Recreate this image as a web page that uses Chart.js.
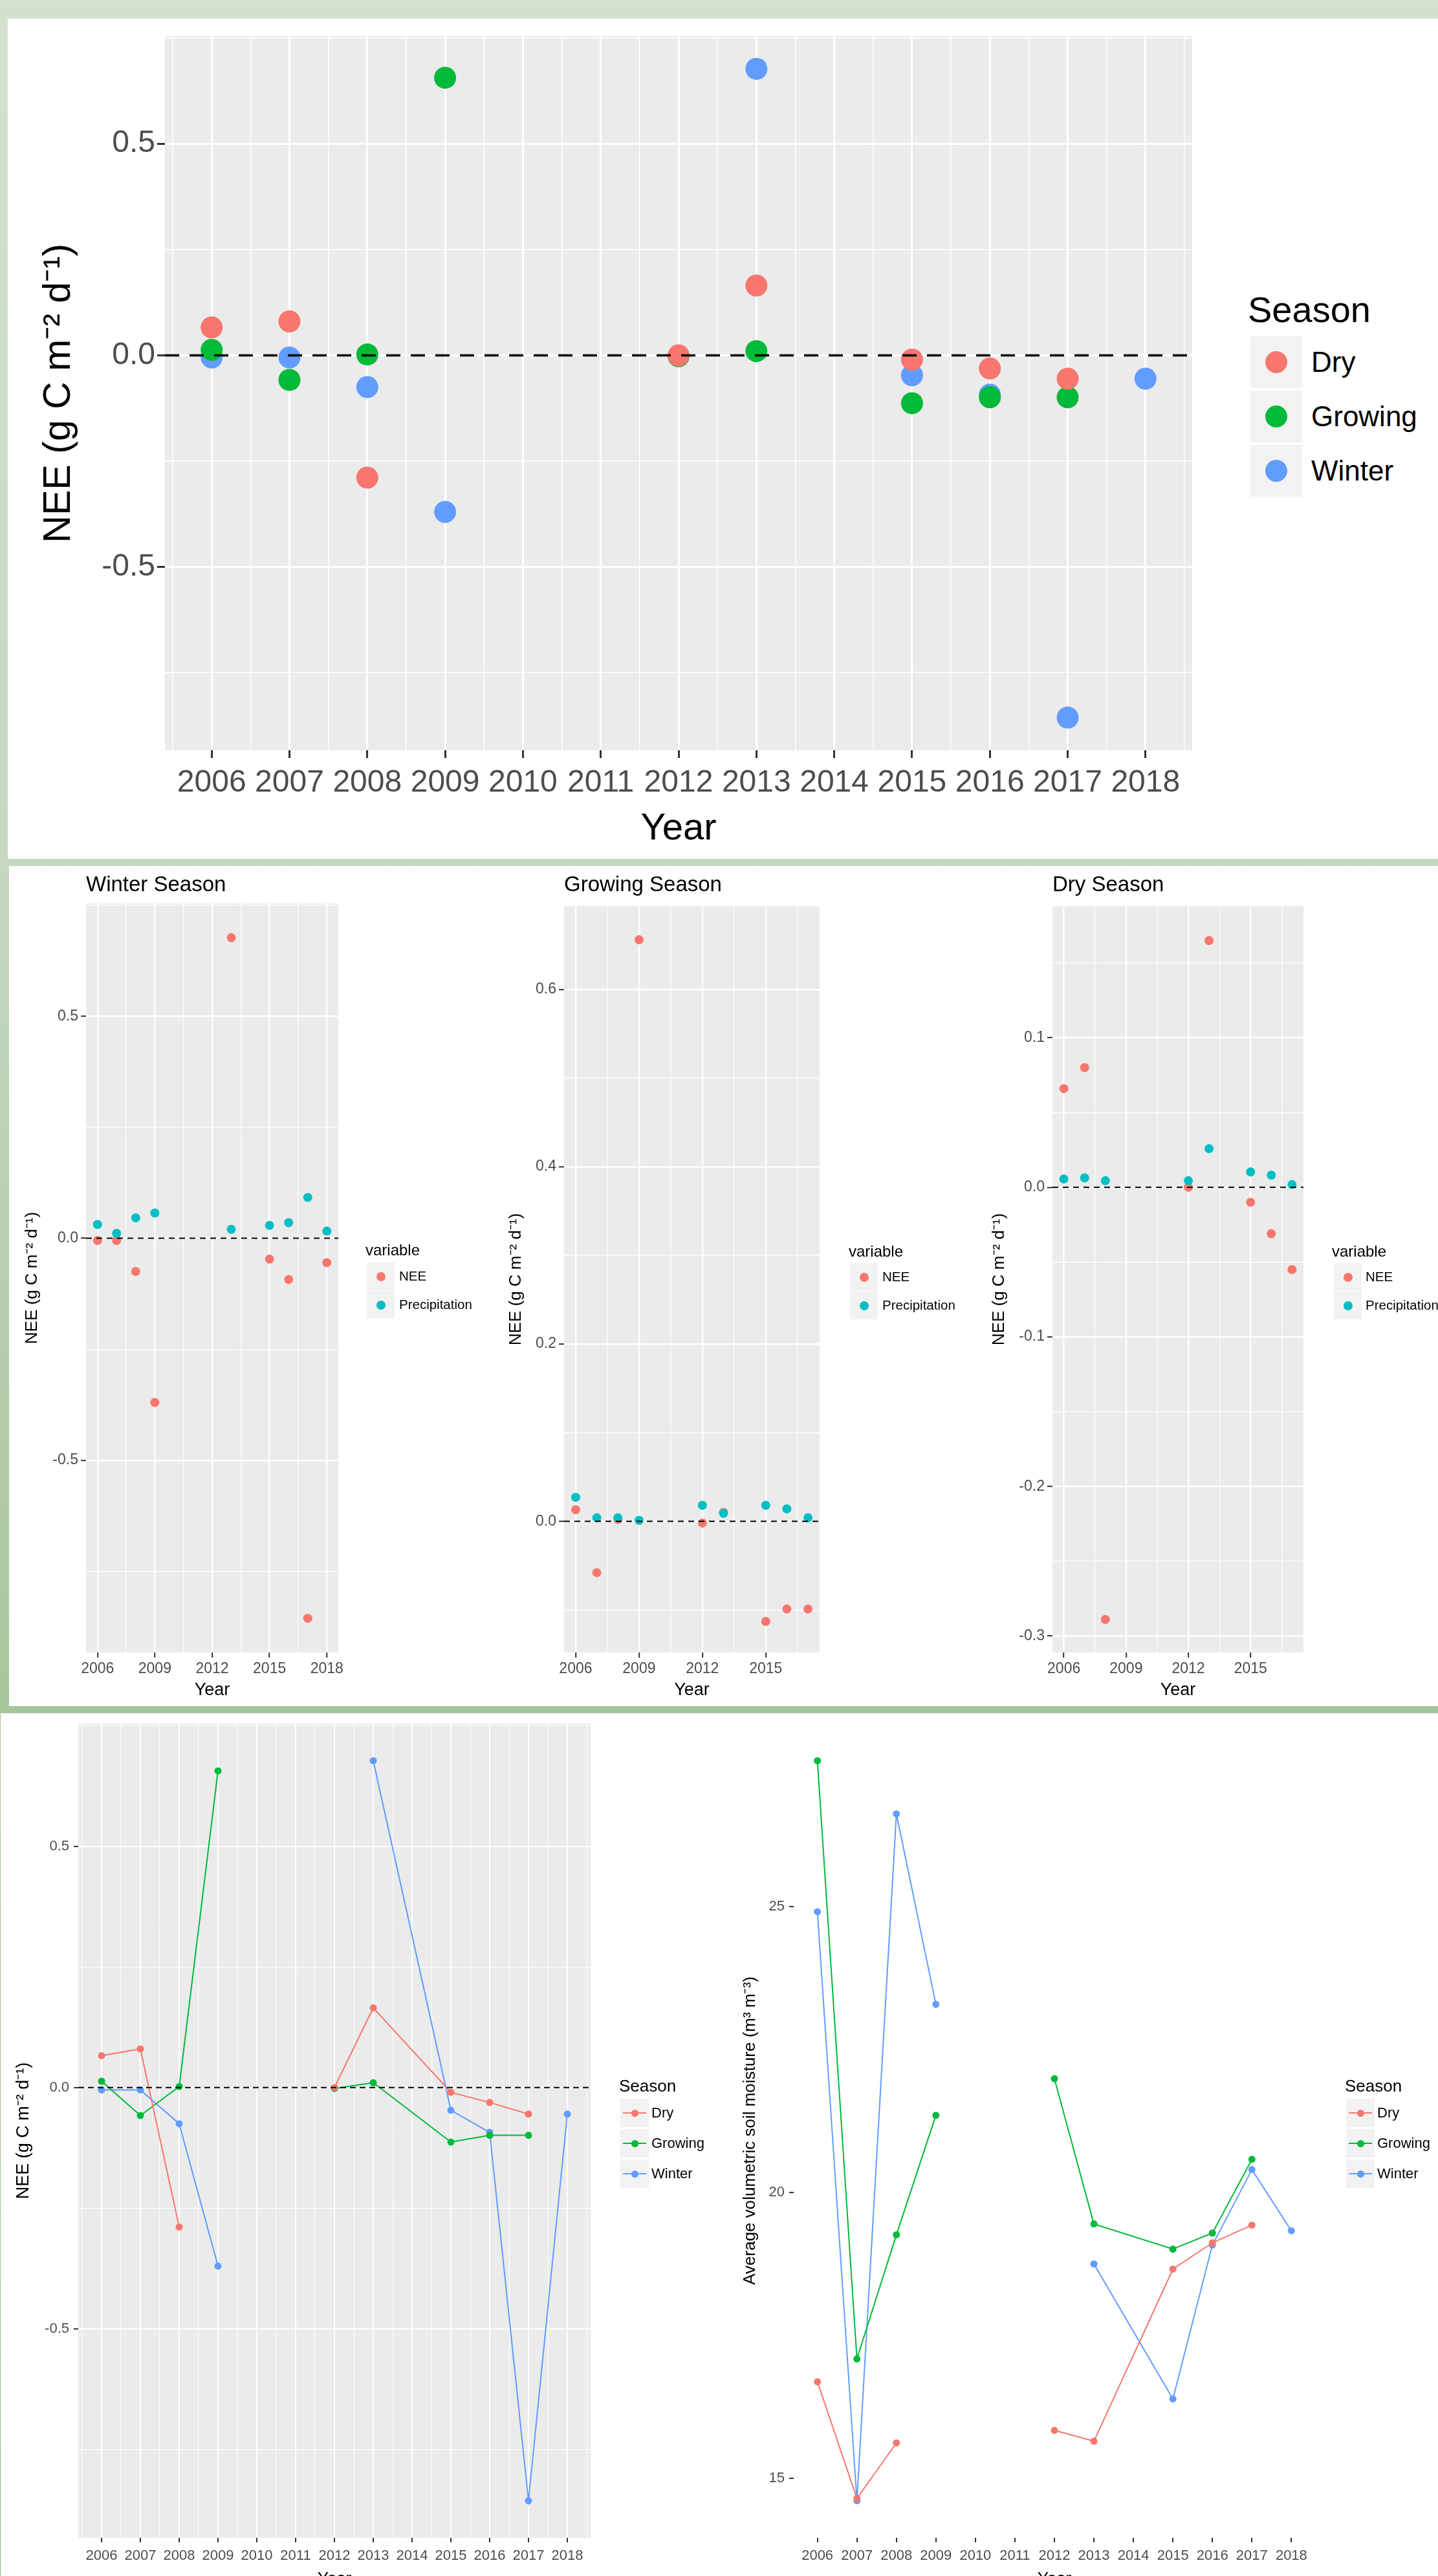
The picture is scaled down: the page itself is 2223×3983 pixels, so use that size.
<!DOCTYPE html>
<html><head><meta charset="utf-8">
<script src="https://cdn.jsdelivr.net/npm/chart.js@4.4.0/dist/chart.umd.min.js"></script>
<style>
html,body{margin:0;padding:0;}
body{width:2223px;height:3983px;overflow:hidden;position:relative;
 background:linear-gradient(to bottom,#d4e1d0 0px,#c5d9c1 1330px,#a8c69c 2640px,#8dbb7f 3983px);
 font-family:'Liberation Sans',Arial,sans-serif;}
.panel{position:absolute;background:#fff;}
canvas{position:absolute;}
.lt{position:absolute;line-height:1;color:#000;white-space:nowrap;}
.key{position:absolute;background:#F2F2F2;}
.dot{position:absolute;border-radius:50%;}
.kl{position:absolute;height:2px;}
.lab{position:absolute;line-height:1;color:#000;white-space:nowrap;display:flex;align-items:center;}
</style></head>
<body>
<div class="panel" style="left:12px;top:29px;width:2211px;height:1299px"></div>
<div class="panel" style="left:14px;top:1339px;width:2209px;height:1299px"></div>
<div class="panel" style="left:1px;top:2649px;width:2222px;height:1334px"></div>
<canvas id="c1"></canvas>
<canvas id="c2"></canvas>
<canvas id="c3"></canvas>
<canvas id="c4"></canvas>
<canvas id="c5"></canvas>
<canvas id="c6"></canvas>
<div id="legends"></div>
<script>
// ---------------- DATA ----------------
const years = [2006,2007,2008,2009,2010,2011,2012,2013,2015,2016,2017,2018];
const seasons = ['Dry','Growing','Winter'];
const neeDry     = [0.066, 0.080,-0.289, null, null, null, 0.000, 0.165,-0.010,-0.031,-0.055, null];
const neeGrowing = [0.013,-0.058, 0.002, 0.656, null, null,-0.002, 0.010,-0.113,-0.099,-0.099, null];
const neeWinter  = [-0.005,-0.005,-0.075,-0.370, null, null, null, 0.677,-0.047,-0.093,-0.856,-0.055];
const precipDry     = [0.0055,0.0063,0.0044, null, null, null,0.0044,0.0258,0.0103,0.0081,0.0018, null];
const precipGrowing = [0.027, 0.004, 0.004, 0.001, null, null, 0.018, 0.009, 0.018, 0.014, 0.004, null];
const precipWinter  = [0.031, 0.011, 0.046, 0.057, null, null, null, 0.020, 0.029, 0.035, 0.092, 0.016];
const smDry     = [16.69,14.65,15.62, null, null, null,15.84,15.65,18.66,19.12,19.43, null];
const smGrowing = [27.55,17.09,19.26,21.35, null, null,21.99,19.45,19.01,19.29,20.58, null];
const smWinter  = [24.91,14.61,26.62,23.29, null, null, null,18.75,16.39,19.08,20.40,19.33];

const xTicksAll  = [2006,2007,2008,2009,2010,2011,2012,2013,2014,2015,2016,2017,2018];
const xLabelsAll = ['2006','2007','2008','2009','2010','2011','2012','2013','2014','2015','2016','2017','2018'];
const xMinorAll  = [2005.5,2006.5,2007.5,2008.5,2009.5,2010.5,2011.5,2012.5,2013.5,2014.5,2015.5,2016.5,2017.5,2018.5];
const xTicks3    = [2006,2009,2012,2015,2018];
const xLabels3   = ['2006','2009','2012','2015','2018'];
const xMinor3    = [2007.5,2010.5,2013.5,2016.5];
const yNeeTicks  = [-0.5,0,0.5];
const yNeeLabels = ['-0.5','0.0','0.5'];
const yNeeMinor  = [-0.75,-0.25,0.25,0.75];
const yGrowTicks = [0,0.2,0.4,0.6];
const yGrowLabels= ['0.0','0.2','0.4','0.6'];
const yGrowMinor = [-0.1,0.1,0.3,0.5];
const yDryTicks  = [-0.3,-0.2,-0.1,0,0.1];
const yDryLabels = ['-0.3','-0.2','-0.1','0.0','0.1'];
const yDryMinor  = [-0.25,-0.15,-0.05,0.05,0.15];
const ySmTicks   = [15,20,25];
const ySmLabels  = ['15','20','25'];
const ySmMinor   = [17.5,22.5,27.5];

// ---------------- STYLE ----------------
const COL = {Dry:'#F8766D', Growing:'#00BA38', Winter:'#619CFF', NEE:'#F8766D', Precipitation:'#00BFC4'};
const FR = "'Liberation Sans',Arial,sans-serif";
const NEE_TITLE = 'NEE (g C m\u207B\u00B2 d\u207B\u00B9)';
const SM_TITLE = 'Average volumetric soil moisture (m\u00B3 m\u207B\u00B3)';

const EPS = 1e-6;
const idxIn = (arr,v)=>arr.findIndex(a=>Math.abs(a-v)<EPS);

const ggPlugin = {
  id:'gg',
  beforeDraw(chart){
    const a = chart.chartArea, ctx = chart.ctx;
    ctx.save(); ctx.fillStyle = '#EBEBEB';
    ctx.fillRect(a.left, a.top, a.right-a.left, a.bottom-a.top); ctx.restore();
  },
  afterDatasetsDraw(chart, args, o){
    if(!o || !o.dash) return;
    const a = chart.chartArea, ctx = chart.ctx;
    const y = chart.scales.y.getPixelForValue(0);
    ctx.save(); ctx.strokeStyle = '#000'; ctx.lineWidth = o.width; ctx.setLineDash(o.dash);
    ctx.beginPath(); ctx.moveTo(a.left, y); ctx.lineTo(a.right, y); ctx.stroke(); ctx.restore();
  }
};
Chart.register(ggPlugin);

function axis(o){
  const all = [...o.major, ...o.minor].sort((a,b)=>a-b);
  return {
    type:'linear', min:o.min, max:o.max, bounds:'data',
    afterBuildTicks: s=>{ s.ticks = all.map(v=>({value:v})); },
    afterFit: s=>{
      if(o.width!=null) s.width = o.width;
      if(o.height!=null) s.height = o.height;
      s.paddingTop = s.paddingBottom = s.paddingLeft = s.paddingRight = 0;
    },
    border:{display:false},
    grid:{
      color:'#FFFFFF',
      lineWidth: c=> (c.tick && idxIn(o.major, c.tick.value)>=0) ? o.majW : o.minW,
      drawTicks:true, tickLength:o.tl,
      tickColor: c=> (c.tick && idxIn(o.major, c.tick.value)>=0) ? '#333333' : 'rgba(0,0,0,0)',
      tickWidth: o.tw
    },
    ticks:{
      autoSkip:false, maxRotation:0, minRotation:0, padding:o.pad, color:'#4D4D4D',
      font:{family:FR, size:o.fs},
      callback: v=>{ const i = idxIn(o.major, v); return i<0 ? '' : o.labels[i]; }
    },
    title:{ display:!!o.title, text:o.title, color:'#000', font:{family:FR, size:o.tfs}, padding:o.tpad }
  };
}

function pts(xs, ys, keepNull){
  const r = xs.map((x,i)=>({x:x, y:ys[i]}));
  return keepNull ? r : r.filter(p=>p.y!==null);
}

function build(id, s){
  const cv = document.getElementById(id);
  const c = s.canvas, p = s.plot;
  cv.width = c.w; cv.height = c.h;
  cv.style.left = c.x+'px'; cv.style.top = c.y+'px';
  s.x.height = (c.y + c.h) - p.bottom;
  s.y.width = p.left - c.x;
  // y title: centre offset from the canvas left edge
  s.y.tpad = {top: s.y.tcenter - s.y.tfs*0.6, bottom:0};
  // x title: centre offset from the canvas bottom edge
  s.x.tpad = {top:0, bottom: s.x.tcenter - s.x.tfs*0.6};
  let padTop = p.top - c.y;
  let titleCfg = {display:false};
  if(s.title){
    const lh = s.title.fs*1.2;
    const pt = s.title.center - c.y - lh/2;
    const pb = (p.top - c.y) - pt - lh;
    titleCfg = {display:true, text:s.title.text, align:'start', fullSize:false, color:'#000',
      font:{family:FR, size:s.title.fs, weight:'normal'}, padding:{top:pt, bottom:pb}};
    padTop = 0;
  }
  return new Chart(cv, {
    type: s.type,
    data: {datasets: s.datasets},
    options: {
      responsive:false, animation:false, devicePixelRatio:1,
      layout:{padding:{left:0, top:padTop, bottom:0, right:(c.x + c.w) - p.right}},
      scales:{x:axis(s.x), y:axis(s.y)},
      plugins:{legend:{display:false}, tooltip:{enabled:false}, title:titleCfg, gg:s.gg},
      elements:{point:{borderWidth:0, hoverRadius:0}, line:{tension:0}}
    }
  });
}

// ---------------- CHART 1 : top scatter ----------------
build('c1', {
  type:'scatter',
  canvas:{x:12, y:29, w:1900, h:1299},
  plot:{left:255, top:56, right:1843, bottom:1160},
  datasets: seasons.map(sn=>({label:sn, data:pts(years, {Dry:neeDry,Growing:neeGrowing,Winter:neeWinter}[sn]),
    backgroundColor:COL[sn], pointRadius:17, pointBorderWidth:0})),
  x:{min:2005.4, max:2018.6, major:xTicksAll, labels:xLabelsAll, minor:xMinorAll, fs:48,
     tl:12, tw:3, pad:10, majW:3, minW:1.5, title:'Year', tfs:58, tcenter:46},
  y:{min:-0.933, max:0.754, major:yNeeTicks, labels:yNeeLabels, minor:yNeeMinor, fs:48,
     tl:12, tw:3, pad:3, majW:3, minW:1.5, title:NEE_TITLE, tfs:59, tcenter:80},
  gg:{dash:[22,16], width:3.5}
});

// ---------------- CHARTS 2-4 : seasonal panels ----------------
function seasonPanel(id, canvas, plot, titleText, neeArr, precArr, xr, xMajor, xLabels, yr, yMajor, yLabels, yMinor, ytCenter){
  build(id, {
    type:'scatter', canvas, plot,
    title:{text:titleText, fs:33, center:1369},
    datasets:[
      {label:'NEE', data:pts(years, neeArr), backgroundColor:COL.NEE, pointRadius:7, order:1},
      {label:'Precipitation', data:pts(years, precArr), backgroundColor:COL.Precipitation, pointRadius:7, order:0}
    ],
    x:{min:xr[0], max:xr[1], major:xMajor, labels:xLabels, minor:xMinor3, fs:23,
       tl:8, tw:2, pad:4, majW:2.4, minW:1.2, title:'Year', tfs:27, tcenter:24},
    y:{min:yr[0], max:yr[1], major:yMajor, labels:yLabels, minor:yMinor, fs:23,
       tl:8, tw:2, pad:4, majW:2.4, minW:1.2, title:NEE_TITLE, tfs:26, tcenter:ytCenter},
    gg:{dash:[9,7], width:2}
  });
}
seasonPanel('c2', {x:14,y:1339,w:731,h:1299}, {left:133,top:1397,right:523,bottom:2555}, 'Winter Season',
  neeWinter, precipWinter, [2005.4,2018.6], xTicks3, xLabels3, [-0.933,0.754], yNeeTicks, yNeeLabels, yNeeMinor, 36);
seasonPanel('c3', {x:745,y:1339,w:745,h:1299}, {left:872,top:1401,right:1267,bottom:2555}, 'Growing Season',
  neeGrowing, precipGrowing, [2005.45,2017.55], xTicks3.slice(0,4), xLabels3.slice(0,4), [-0.148,0.694], yGrowTicks, yGrowLabels, yGrowMinor, 53);
seasonPanel('c4', {x:1490,y:1339,w:733,h:1299}, {left:1627,top:1401,right:2015,bottom:2555}, 'Dry Season',
  neeDry, precipDry, [2005.45,2017.55], xTicks3.slice(0,4), xLabels3.slice(0,4), [-0.311,0.188], yDryTicks, yDryLabels, yDryMinor, 55);

// ---------------- CHARTS 5-6 : line charts ----------------
function lineSets(map){
  return seasons.map(sn=>({label:sn, data:pts(years, map[sn], true), borderColor:COL[sn], backgroundColor:COL[sn],
    pointBackgroundColor:COL[sn], borderWidth:2, pointRadius:5.5, pointBorderWidth:0, spanGaps:false, showLine:true}));
}
build('c5', {
  type:'line',
  canvas:{x:1, y:2649, w:1111, h:1361},
  plot:{left:121, top:2665, right:913, bottom:3924},
  datasets: lineSets({Dry:neeDry, Growing:neeGrowing, Winter:neeWinter}),
  x:{min:2005.4, max:2018.6, major:xTicksAll, labels:xLabelsAll, minor:xMinorAll, fs:22,
     tl:7, tw:2, pad:8, majW:2, minW:1, title:'Year', tfs:26, tcenter:22},
  y:{min:-0.933, max:0.754, major:yNeeTicks, labels:yNeeLabels, minor:yNeeMinor, fs:22,
     tl:7, tw:2, pad:7, majW:2, minW:1, title:NEE_TITLE, tfs:27, tcenter:36},
  gg:{dash:[9,6], width:2}
});
build('c6', {
  type:'line',
  canvas:{x:1112, y:2649, w:1111, h:1361},
  plot:{left:1227, top:2665, right:2033, bottom:3924},
  datasets: lineSets({Dry:smDry, Growing:smGrowing, Winter:smWinter}),
  x:{min:2005.4, max:2018.6, major:xTicksAll, labels:xLabelsAll, minor:xMinorAll, fs:22,
     tl:7, tw:2, pad:8, majW:2, minW:1, title:'Year', tfs:26, tcenter:22},
  y:{min:13.96, max:28.2, major:ySmTicks, labels:ySmLabels, minor:ySmMinor, fs:22,
     tl:7, tw:2, pad:7, majW:2, minW:1, title:SM_TITLE, tfs:26, tcenter:48},
  gg:null
});

// ---------------- LEGENDS (HTML) ----------------
function legend(L){
  const host = document.getElementById('legends');
  const t = document.createElement('div');
  t.className = 'lt'; t.textContent = L.title;
  t.style.cssText += `left:${L.tx}px;top:${L.baseline - 0.8465*L.tfs}px;font-size:${L.tfs}px;font-family:${FR};`;
  host.appendChild(t);
  L.items.forEach((name,i)=>{
    const top = L.ky + i*L.pitch;
    const k = document.createElement('div');
    k.className = 'key';
    k.style.cssText += `left:${L.kx}px;top:${top}px;width:${L.ks}px;height:${L.ks}px;`;
    if(L.line){
      const ln = document.createElement('div'); ln.className='kl';
      ln.style.cssText += `left:${L.ks*0.08}px;width:${L.ks*0.84}px;top:${L.ks/2-1}px;background:${COL[name]};`;
      k.appendChild(ln);
    }
    const d = document.createElement('div'); d.className='dot';
    d.style.cssText += `width:${L.dot}px;height:${L.dot}px;left:${(L.ks-L.dot)/2}px;top:${(L.ks-L.dot)/2}px;background:${COL[name]};`;
    k.appendChild(d);
    host.appendChild(k);
    const lb = document.createElement('div'); lb.className='lab'; lb.textContent = name;
    lb.style.cssText += `left:${L.lx}px;top:${top}px;height:${L.ks}px;font-size:${L.lfs}px;font-family:${FR};`;
    host.appendChild(lb);
  });
}
legend({title:'Season', items:seasons, tx:1929, baseline:498, tfs:56, kx:1933, ky:520, ks:80, pitch:84, dot:34, lx:2027, lfs:44});
const vars = ['NEE','Precipitation'];
legend({title:'variable', items:vars, tx:565, baseline:1941, tfs:24, kx:567, ky:1952, ks:43, pitch:44, dot:14, lx:617, lfs:20.5});
legend({title:'variable', items:vars, tx:1312, baseline:1943, tfs:24, kx:1314, ky:1953, ks:43, pitch:44, dot:14, lx:1364, lfs:20.5});
legend({title:'variable', items:vars, tx:2059, baseline:1943, tfs:24, kx:2062, ky:1953, ks:43, pitch:44, dot:14, lx:2111, lfs:20.5});
legend({title:'Season', items:seasons, tx:957, baseline:3234, tfs:26, kx:959, ky:3245, ks:44, pitch:47, dot:11, lx:1007, lfs:22, line:true});
legend({title:'Season', items:seasons, tx:2079, baseline:3234, tfs:26, kx:2081, ky:3245, ks:44, pitch:47, dot:11, lx:2129, lfs:22, line:true});
</script>
</body></html>
